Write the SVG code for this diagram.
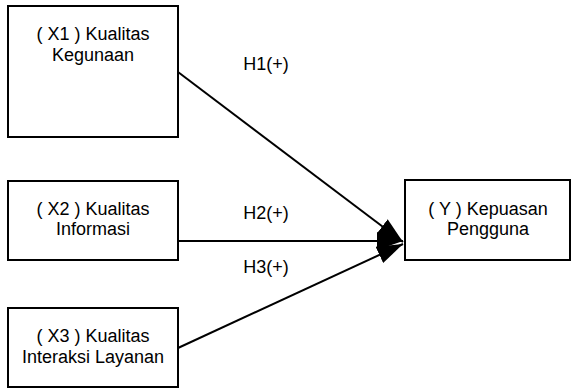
<svg xmlns="http://www.w3.org/2000/svg" width="572" height="389" viewBox="0 0 572 389">
<style>
.box{fill:#fff;stroke:#000;stroke-width:2}
.t{font-family:"Liberation Sans",Arial,sans-serif;font-size:18px;fill:#000;text-anchor:middle}
.c{stroke:#000;stroke-width:2;fill:none;marker-end:url(#ah)}
</style>
<defs>
<marker id="ah" markerUnits="userSpaceOnUse" markerWidth="30" markerHeight="24" refX="26" refY="12" orient="auto">
<path d="M0,3 L26,12 L0,21 Z" fill="#000"/>
</marker>
</defs>
<rect width="572" height="389" fill="#fff"/>
<g id="connectors">
<line class="c" x1="178" y1="72" x2="403" y2="242"/>
<line class="c" x1="178" y1="241" x2="403" y2="241"/>
<line class="c" x1="178" y1="348" x2="403" y2="244"/>
<text class="t" x="266" y="70">H1(+)</text>
<text class="t" x="266" y="219">H2(+)</text>
<text class="t" x="266" y="273">H3(+)</text>
</g>
<g id="x1">
<rect class="box" x="8" y="6" width="170" height="131"/>
<text class="t" x="93" y="40">( X1 ) Kualitas</text>
<text class="t" x="93" y="61">Kegunaan</text>
</g>
<g id="x2">
<rect class="box" x="8" y="181" width="170" height="79"/>
<text class="t" x="93" y="215">( X2 ) Kualitas</text>
<text class="t" x="93" y="235">Informasi</text>
</g>
<g id="x3">
<rect class="box" x="8" y="308" width="170" height="79"/>
<text class="t" x="93" y="342">( X3 ) Kualitas</text>
<text class="t" x="93" y="363">Interaksi Layanan</text>
</g>
<g id="y">
<rect class="box" x="405" y="180" width="165" height="80"/>
<text class="t" x="488" y="215">( Y ) Kepuasan</text>
<text class="t" x="488" y="235">Pengguna</text>
</g>
</svg>
